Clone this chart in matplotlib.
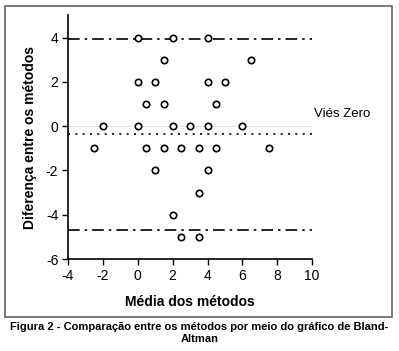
import matplotlib
matplotlib.use("Agg")
import matplotlib.pyplot as plt
from matplotlib.patches import Rectangle

plt.rcParams['font.family'] = ['Liberation Sans', 'DejaVu Sans']
plt.rcParams['axes.unicode_minus'] = False

# Bland-Altman points
media = [0, 2, 4,
         1.5, 6.5,
         0, 1, 4, 5,
         0.5, 1.5, 4.5,
         -2, 0, 2, 3, 4, 6,
         -2.5, 0.5, 1.5, 2.5, 3.5, 4.5, 7.5,
         1, 4,
         3.5,
         2,
         2.5, 3.5]
diferenca = [4, 4, 4,
             3, 3,
             2, 2, 2, 2,
             1, 1, 1,
             0, 0, 0, 0, 0, 0,
             -1, -1, -1, -1, -1, -1, -1,
             -2, -2,
             -3,
             -4,
             -5, -5]

vies_medio = -0.37
limite_sup = 3.95
limite_inf = -4.68
x_ticks = [-4, -2, 0, 2, 4, 6, 8, 10]
y_ticks = [-6, -4, -2, 0, 2, 4]

fig = plt.figure(figsize=(3.99, 3.51), dpi=100, facecolor='w')
ax = fig.add_axes([0.1704, 0.262, 0.612, 0.694])

ax.axhline(0, color='#e6e6e6', lw=0.8, zorder=1)
ax.axhline(vies_medio, color='black', lw=1.2, ls=(0, (1.2, 3.2)), zorder=2)
for lim in (limite_sup, limite_inf):
    ax.axhline(lim, color='black', lw=1.2, ls=(0, (7, 3, 1.5, 3)), zorder=2)

ax.plot(media, diferenca, 'o', ms=4.6, mfc='white', mec='black', mew=1.2,
        ls='none', zorder=3)

ax.set_xlim(-4, 10)
ax.set_ylim(-6, 5)
ax.set_xticks(x_ticks)
ax.set_yticks(y_ticks)
ax.tick_params(labelsize=10, length=4, width=1, direction='out', pad=3)
for side in ('top', 'right'):
    ax.spines[side].set_visible(False)
for side in ('left', 'bottom'):
    ax.spines[side].set_linewidth(1.2)

ax.set_xlabel('Média dos métodos', fontsize=10, fontweight='bold', labelpad=9)
ax.set_ylabel('Diferença entre os métodos', fontsize=10, fontweight='bold',
              labelpad=6)

ax.text(10.1, 0.3, 'Viés Zero', fontsize=9.5, va='bottom', ha='left',
        clip_on=False)

fig.add_artist(Rectangle((4.5 / 399, 1 - 317 / 351), 387.5 / 399, 311 / 351,
                         transform=fig.transFigure, fill=False,
                         edgecolor='#707070', lw=1.3))

fig.text(0.5, 1 - 327 / 351,
         'Figura 2 - Comparação entre os métodos por meio do gráfico de Bland-',
         ha='center', va='center', fontsize=8, fontweight='bold')
fig.text(0.5, 1 - 339 / 351, 'Altman', ha='center', va='center',
         fontsize=8, fontweight='bold')

fig.savefig('out.png', dpi=100)
